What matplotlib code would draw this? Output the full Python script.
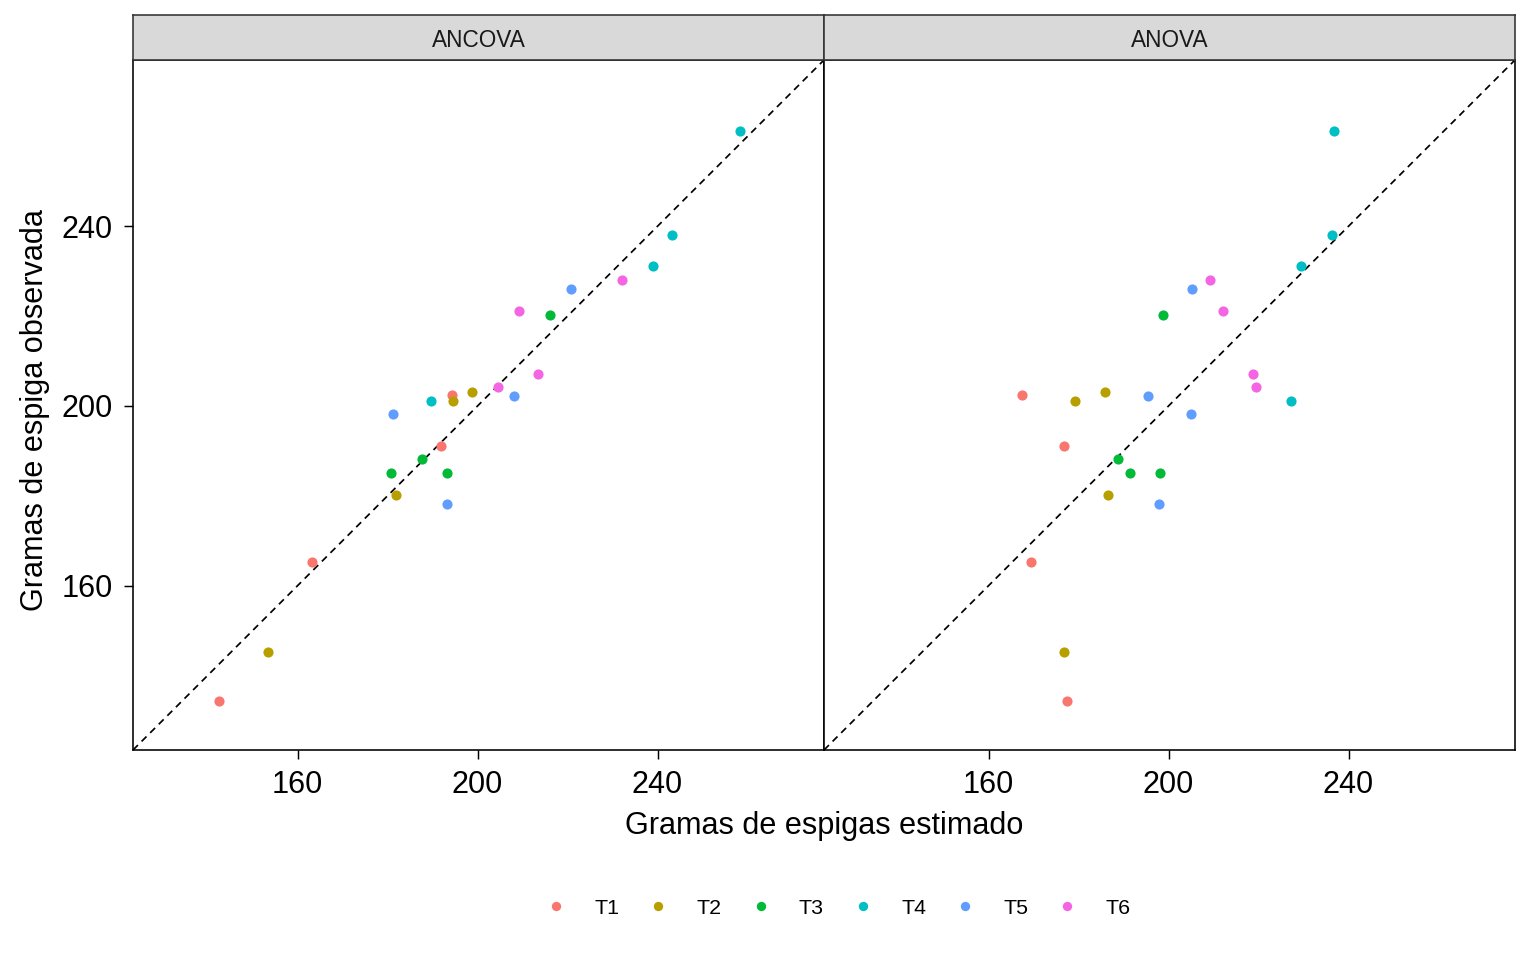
import numpy as np
import matplotlib.pyplot as plt
from matplotlib.lines import Line2D

plt.rcParams['font.family'] = ['Liberation Sans', 'DejaVu Sans']

# Données (4 répétitions par traitement)
treatments = ["T1", "T2", "T3", "T4", "T5", "T6"]
colors = ["#F8766D", "#B79F00", "#00BA38", "#00BFC4", "#619CFF", "#F564E3"]

observed = [
    [202.4, 191.1, 165.3, 134.2],
    [203.1, 201.2, 180.2, 145.3],
    [220.2, 188.2, 185.1, 185.1],
    [261.1, 238.0, 231.2, 201.2],
    [226.0, 202.3, 198.3, 178.2],
    [228.0, 221.1, 207.1, 204.2],
]
est_ancova = [
    [194.4, 191.8, 163.2, 142.6],
    [198.8, 194.6, 181.9, 153.3],
    [216.2, 187.7, 180.8, 193.1],
    [258.4, 243.2, 239.0, 189.7],
    [220.8, 208.2, 181.3, 193.2],
    [232.2, 209.3, 213.5, 204.6],
]
est_anova = [
    [167.5, 176.8, 169.4, 177.5],
    [185.9, 179.3, 186.6, 176.8],
    [198.8, 188.8, 191.5, 198.1],
    [236.8, 236.4, 229.5, 227.1],
    [205.3, 195.5, 204.9, 197.9],
    [209.3, 212.0, 218.7, 219.4],
]
panels = [("ANCOVA", est_ancova), ("ANOVA", est_anova)]
lims = (123.4, 277.0)
ticks = [160, 200, 240]

W, H = 1536, 960
fig = plt.figure(figsize=(W / 96, H / 96), dpi=96)

x0s = [133, 824]
pw, top, bot = 691, 60, 750
for k, (name, est) in enumerate(panels):
    ax = fig.add_axes([x0s[k] / W, (H - bot) / H, pw / W, (bot - top) / H])
    ax.plot(lims, lims, color="black", ls=(0, (4, 3)), lw=1.3, zorder=1)
    for i in range(len(treatments)):
        ax.scatter(est[i], observed[i], s=58, color=colors[i], linewidths=0, zorder=3)
    ax.set_xlim(lims)
    ax.set_ylim(lims)
    ax.set_xticks(ticks)
    ax.set_yticks(ticks)
    ax.tick_params(length=7, width=1.1, labelsize=23, pad=8, colors="black")
    if k > 0:
        ax.tick_params(axis="y", labelleft=False, length=0)
    for sp in ax.spines.values():
        sp.set_linewidth(1.2)
        sp.set_color("black")
    # bandeau du facet
    st = fig.add_axes([x0s[k] / W, (H - top) / H, pw / W, 45 / H])
    st.set_facecolor("#D9D9D9")
    st.set_xticks([])
    st.set_yticks([])
    for sp in st.spines.values():
        sp.set_linewidth(1.2)
        sp.set_color("#333333")
    st.text(0.5, 0.44, name, ha="center", va="center", fontsize=17, color="#1A1A1A",
            transform=st.transAxes)

fig.text((133 + 824 + pw) / 2 / W, (H - 826) / H, "Gramas de espigas estimado",
         ha="center", va="center", fontsize=23)
fig.text(35 / W, (H - 410) / H, "Gramas de espiga observada", ha="center", va="center",
         rotation=90, fontsize=23)

handles = [Line2D([], [], ls="", marker="o", ms=7, mec="none", mfc=c) for c in colors]
fig.legend(handles, treatments, loc="center", bbox_to_anchor=(838 / W, (H - 908) / H),
           ncol=6, frameon=False, fontsize=16, handlelength=1.0, handletextpad=1.3,
           columnspacing=1.32)

fig.savefig("out.png", dpi=96, facecolor="white")
